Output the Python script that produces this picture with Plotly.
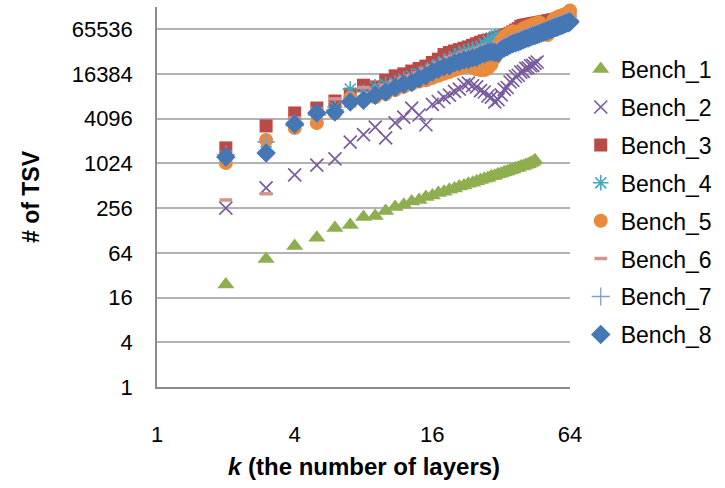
import plotly.graph_objects as go

K = list(range(2, 65))
k_b1 = list(range(2, 46))
k_b2 = list(range(2, 47))

bench_1 = [24, 53, 79, 102, 138, 152, 195, 201, 234, 265, 285, 315, 330, 362, 378, 410, 425, 455,
           470, 500, 518, 545, 565, 590, 612, 640, 655, 688, 700, 735, 750, 782, 800, 830, 850, 880,
           895, 930, 948, 980, 998, 1040, 1075, 1130]
bench_2 = [256, 480, 720, 970, 1180, 1990, 2500, 3170, 2260, 3600, 4300, 5700, 4600, 3400, 6400,
           7000, 7900, 8500, 9600, 10300, 11800, 12400, 11400, 11000, 9800, 9400, 8300, 8000, 6900,
           7400, 8600, 10200, 10800, 12800, 13500, 15200, 15800, 17400, 17800, 19500, 19800, 21200,
           21500, 22800, 23800]
bench_3 = [1660, 3280, 4900, 5720, 7100, 8800, 11600, 11000, 13500, 15500, 16500, 18000, 19500, 21000,
           23500, 26000, 30000, 32000, 33500, 35000, 36500, 38000, 40000, 42000, 44000, 46000, 47000,
           48000, 49000, 50000, 52000, 54000, 56000, 58000, 61000, 64000, 67000, 72000, 74000, 75000,
           76000, 77000, 78000, 79000, 80000, 81000, 82000, 83000, 84000, 85000, 86000, 87000, 88000,
           89000, 90000, 91000, 92000, 93000, 94000, 95000, 96000, 97000, 98000]
bench_4 = [1300, 2000, 3700, 5000, 5900, 10300, 9400, 11000, 12000, 12500, 14000, 15500, 16500, 18000,
           20000, 22000, 24000, 26000, 28000, 31000, 33000, 34000, 35000, 36000, 38000, 42000, 46000,
           50000, 52000, 53000, 51000, 50000, 47000, 46000, 47000, 48000, 49500, 51000, 52500, 54000,
           55500, 57000, 58500, 60000, 61500, 63000, 64500, 66000, 67500, 69000, 70500, 72000, 73500,
           75000, 76500, 78000, 79500, 81000, 82500, 84000, 85500, 87000, 88500]
bench_5 = [1040, 2120, 3080, 3600, 4900, 7800, 7300, 8000, 8800, 10000, 11000, 12000, 13000, 13500,
           14500, 15500, 16500, 17500, 18500, 19500, 20400, 21000, 20000, 19000, 18600, 18600, 19500,
           22000, 27000, 40000, 46000, 52000, 56000, 60000, 62000, 58000, 61000, 64000, 67000, 70000,
           72000, 74000, 76000, 78000, 80000, 82000, 70000, 62000, 56000, 55000, 62000, 75000, 88000,
           92000, 95000, 97000, 99000, 101000, 103000, 105000, 107000, 109000, 118000]
bench_6 = [330, 400, 4200, 5500, 7600, 6100, 10800, 10000, 11500, 13000, 14500, 15500, 17000, 19000,
           21000, 23000, 25000, 27000, 28500, 30000, 31500, 32500, 33500, 35000, 36500, 38000, 39500,
           40500, 40000, 39500, 42000, 44500, 46500, 48500, 50500, 52500, 54500, 56500, 58500, 60500,
           62000, 63500, 65000, 66500, 68000, 69500, 71000, 72500, 74000, 75500, 77000, 78500, 80000,
           81500, 83000, 84500, 86000, 87500, 89000, 90500, 92000, 93500, 96000]
bench_7 = [1350, 2000, 3300, 4600, 5400, 7200, 8000, 9000, 10000, 11300, 12600, 13300, 15000, 16400,
           18300, 19800, 21500, 22300, 24200, 25200, 26600, 27200, 28500, 29000, 31000, 32000, 33700,
           34200, 33500, 33000, 36300, 38600, 40100, 42300, 43900, 45400, 46600, 48000, 49700, 51500,
           52800, 54400, 55900, 57000, 58300, 59900, 61500, 63400, 64700, 66000, 67800, 69200, 70700,
           72200, 73700, 75300, 76900, 78400, 80100, 81800, 83500, 84700, 86500]
bench_8 = [1250, 1420, 3490, 4900, 5050, 6900, 7300, 8500, 9400, 10800, 12000, 12600, 14300, 15600,
           17500, 19000, 20600, 21200, 23200, 24000, 25400, 25800, 27200, 27600, 29500, 30400, 32100,
           32600, 31900, 31500, 34600, 36800, 38200, 40300, 41800, 43200, 44400, 45700, 47300, 49000,
           50300, 51800, 53200, 54300, 55500, 57000, 58600, 60400, 61600, 62900, 64600, 65900, 67300,
           68800, 70200, 71700, 73200, 74700, 76300, 77900, 79500, 80700, 82400]

y_ticks = [1, 4, 16, 64, 256, 1024, 4096, 16384, 65536]
x_ticks = [1, 4, 16, 64]

series = [
    ("Bench_1", k_b1, bench_1, dict(symbol="triangle-up", size=15, color="#8FAE50")),
    ("Bench_2", k_b2, bench_2, dict(symbol="x-thin-open", size=13, color="#7A5C9E", line=dict(width=1.7, color="#7A5C9E"))),
    ("Bench_3", K, bench_3, dict(symbol="square", size=13, color="#BA4A47")),
    ("Bench_4", K, bench_4, dict(symbol="asterisk-open", size=13, color="#45A6BF", line=dict(width=1.6, color="#45A6BF"))),
    ("Bench_5", K, bench_5, dict(symbol="circle", size=14, color="#E98A3C")),
    ("Bench_6", K, bench_6, dict(symbol="line-ew-open", size=9, color="#D8918F", line=dict(width=3.5, color="#D8918F"))),
    ("Bench_7", K, bench_7, dict(symbol="cross-thin-open", size=13, color="#7F9FCE", line=dict(width=1.3, color="#7F9FCE"))),
    ("Bench_8", K, bench_8, dict(symbol="diamond", size=15, color="#4677B5")),
]

fig = go.Figure()
for name, xs, ys, mk in series:
    fig.add_trace(go.Scatter(x=xs, y=ys, mode="markers", name=name, marker=mk,
                             legendgroup=name, cliponaxis=False))

FONT = "Liberation Sans, Arial, sans-serif"
fig.update_layout(
    width=725, height=488,
    margin=dict(l=157, r=152, t=7, b=101),
    paper_bgcolor="white", plot_bgcolor="white",
    font=dict(family=FONT, size=22, color="#000000"),
    showlegend=True,
    legend=dict(x=1.026, y=0.893, xanchor="left", yanchor="top",
                font=dict(family=FONT, size=23, color="#000000"),
                tracegroupgap=5, bgcolor="rgba(0,0,0,0)"),
    xaxis=dict(type="log", range=[0, 1.80618], tickvals=x_ticks,
               ticktext=[str(v) for v in x_ticks], showgrid=False, zeroline=False,
               showline=True, linecolor="#8C8C8C", linewidth=1.5, ticks="",
               ticklabelstandoff=27, tickfont=dict(size=22)),
    yaxis=dict(type="log", range=[0, 5.11751], tickvals=y_ticks,
               ticktext=[str(v) for v in y_ticks], showgrid=True, gridcolor="#B3B3B3",
               gridwidth=1.5, zeroline=False, showline=True, linecolor="#8C8C8C",
               linewidth=1.5, ticks="", ticklabelstandoff=18, tickfont=dict(size=22)),
    annotations=[
        dict(text="<b># of TSV</b>", xref="paper", yref="paper", x=-0.305, y=0.5,
             xanchor="center", yanchor="middle", textangle=-90, showarrow=False,
             font=dict(family=FONT, size=23, color="#000000")),
        dict(text="<b><i>k</i> (the number of layers)</b>", xref="paper", yref="paper",
             x=0.5, y=-0.21, xanchor="center", yanchor="middle", showarrow=False,
             font=dict(family=FONT, size=24, color="#000000")),
    ],
)

fig.write_html("out.html")
